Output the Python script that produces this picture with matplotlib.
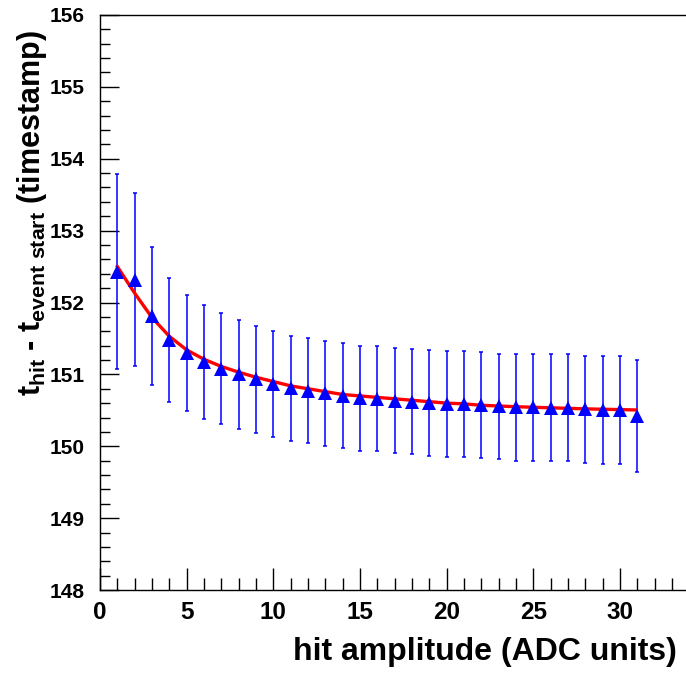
import numpy as np
import matplotlib.pyplot as plt
from matplotlib.ticker import MultipleLocator

plt.rcParams['font.family'] = ['Liberation Sans', 'DejaVu Sans']
plt.rcParams['font.weight'] = 'bold'
plt.rcParams['mathtext.fontset'] = 'custom'
plt.rcParams['mathtext.rm'] = 'Liberation Sans:bold'
plt.rcParams['mathtext.bf'] = 'Liberation Sans:bold'
plt.rcParams['mathtext.it'] = 'Liberation Sans:bold'

# measured points (hit amplitude vs mean time difference)
amplitude = np.arange(1, 32)
t_mean = [152.43, 152.32, 151.81, 151.48, 151.30, 151.17, 151.08, 151.00, 150.93, 150.87,
          150.81, 150.77, 150.74, 150.70, 150.67, 150.66, 150.635, 150.62, 150.605, 150.59,
          150.59, 150.57, 150.555, 150.54, 150.545, 150.535, 150.535, 150.515, 150.51, 150.51,
          150.42]
t_err = [1.36, 1.21, 0.96, 0.86, 0.81, 0.79, 0.77, 0.76, 0.75, 0.74,
         0.73, 0.73, 0.73, 0.73, 0.73, 0.73, 0.735, 0.73, 0.735, 0.74,
         0.74, 0.74, 0.735, 0.74, 0.745, 0.745, 0.745, 0.745, 0.75, 0.75,
         0.78]

# fitted curve
fit_x = [1, 2, 3, 4, 5, 6, 7, 8, 9, 10, 11, 12, 13, 14, 15, 16, 17, 18, 19, 20,
         21, 22, 24, 26, 28, 30, 30.9]
fit_y = [152.50, 152.13, 151.79, 151.53, 151.34, 151.21, 151.11, 151.03, 150.96, 150.90,
         150.84, 150.80, 150.76, 150.72, 150.70, 150.68, 150.66, 150.64, 150.62, 150.60,
         150.59, 150.57, 150.55, 150.535, 150.52, 150.51, 150.505]

fig = plt.figure(figsize=(6.86, 6.74), dpi=100)
ax = fig.add_axes([100/686, 1 - 590/674, 590/686, 575/674])

ax.errorbar(amplitude, t_mean, yerr=t_err, fmt='none', ecolor='blue',
            elinewidth=1.1, capsize=1.6, capthick=1.1, zorder=2)
ax.plot(fit_x, fit_y, color='red', lw=2.4, zorder=3)
ax.plot(amplitude, t_mean, ls='none', marker='^', ms=9.5, color='blue',
        markeredgewidth=0, zorder=4)

ax.set_xlim(0, 590/17.33)
ax.set_ylim(148, 156)
ax.xaxis.set_major_locator(MultipleLocator(5))
ax.xaxis.set_minor_locator(MultipleLocator(1))
ax.yaxis.set_major_locator(MultipleLocator(1))
ax.yaxis.set_minor_locator(MultipleLocator(0.2))

ax.tick_params(axis='both', which='both', direction='in', top=False, right=False)
ax.tick_params(axis='x', which='major', length=16, width=1, labelsize=17.5, pad=8)
ax.tick_params(axis='x', which='minor', length=8.5, width=1)
ax.tick_params(axis='y', which='major', length=14, width=1, labelsize=15, pad=11)
ax.tick_params(axis='y', which='minor', length=7, width=1)
for lab in ax.get_xticklabels() + ax.get_yticklabels():
    lab.set_fontweight('bold')

for s in ax.spines.values():
    s.set_linewidth(1.0)
ax.spines['right'].set_visible(False)

ax.set_xlabel('hit amplitude (ADC units)', fontsize=23, fontweight='bold', loc='right')
ax.xaxis.set_label_coords((677 - 100) / 590, -(637 - 590) / 575)
ax.set_ylabel(r'$\mathbf{t_{hit}}$ - $\mathbf{t_{event\ start}}$ (timestamp)',
              fontsize=22, fontweight='bold', loc='top')
ax.yaxis.set_label_coords((49 - 100) / 590, (590 - 30) / 575)

fig.savefig('out.png', dpi=100)
